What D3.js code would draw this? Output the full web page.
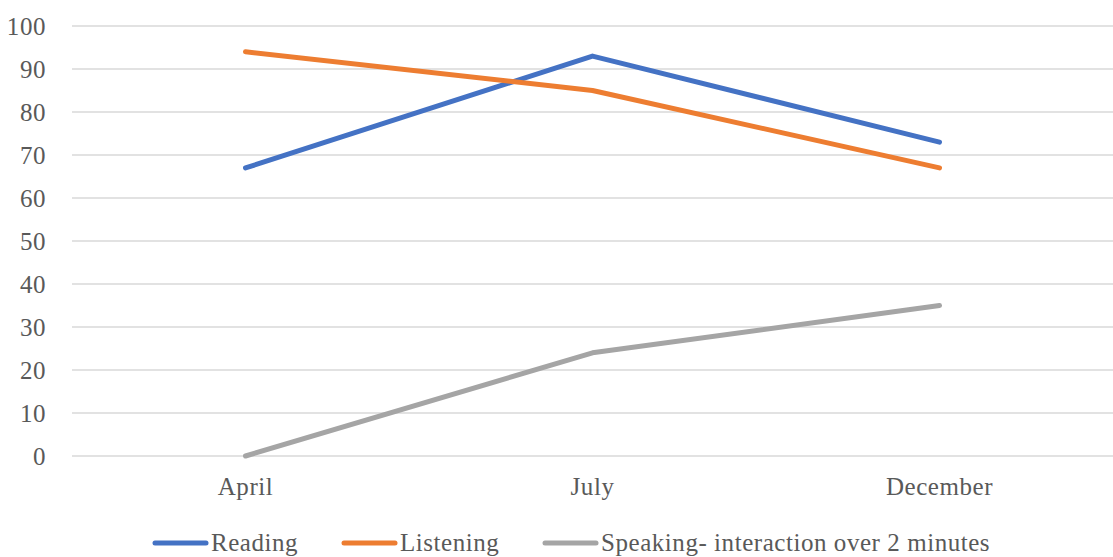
<!DOCTYPE html>
<html>
<head>
<meta charset="utf-8">
<script src="https://cdn.jsdelivr.net/npm/d3@7"></script>
<style>
  html, body { margin: 0; padding: 0; background: #fff; }
  svg text { font-family: "Liberation Serif", "DejaVu Serif", serif; fill: #595959; letter-spacing: 0.55px; }
</style>
</head>
<body>
<svg id="chart" width="1113" height="557"></svg>
<script>
const months = ["April", "July", "December"];
const reading = [67, 93, 73];
const listening = [94, 85, 67];
const speaking = [0, 24, 35];
const seriesNames = ["Reading", "Listening", "Speaking- interaction over 2 minutes"];
const seriesColors = ["#4472C4", "#ED7D31", "#A5A5A5"];
const yTicks = [0, 10, 20, 30, 40, 50, 60, 70, 80, 90, 100];

const series = [reading, listening, speaking].map((vals, i) => ({
  name: seriesNames[i], color: seriesColors[i], values: vals
}));

const svg = d3.select("#chart");
const plotLeft = 72, plotRight = 1113, plotTop = 26, plotBottom = 456;
const fontSize = "25px";

const x = d3.scaleBand().domain(months).range([plotLeft, plotRight]);
const y = d3.scaleLinear().domain([0, 100]).range([plotBottom, plotTop]);

// horizontal gridlines
svg.append("g").selectAll("line").data(yTicks).join("line")
  .attr("x1", plotLeft).attr("x2", plotRight)
  .attr("y1", d => y(d)).attr("y2", d => y(d))
  .attr("stroke", "#d9d9d9").attr("stroke-width", 1.3);

// y axis labels
const yAxis = d3.axisLeft(y).tickValues(yTicks).tickSize(0).tickPadding(0);
const yg = svg.append("g").attr("transform", `translate(${plotLeft - 26},0)`).call(yAxis);
yg.select(".domain").remove();
yg.selectAll("text").style("font-size", fontSize).attr("fill", "#595959")
  .style("font-family", '"Liberation Serif", "DejaVu Serif", serif');

// x axis labels
const xAxis = d3.axisBottom(x).tickSize(0).tickPadding(0);
const xg = svg.append("g").attr("transform", `translate(0,${plotBottom + 21})`).call(xAxis);
xg.select(".domain").remove();
xg.selectAll("text").style("font-size", fontSize).attr("fill", "#595959")
  .style("font-family", '"Liberation Serif", "DejaVu Serif", serif');

// series lines
const line = d3.line()
  .x((d, i) => x(months[i]) + x.bandwidth() / 2)
  .y(d => y(d));

svg.append("g").selectAll("path").data(series).join("path")
  .attr("d", d => line(d.values))
  .attr("fill", "none")
  .attr("stroke", d => d.color)
  .attr("stroke-width", 5)
  .attr("stroke-linecap", "round")
  .attr("stroke-linejoin", "round");

// legend
const legendX = [153, 342, 543];
const legendY = 543;
const lg = svg.append("g").selectAll("g").data(series).join("g")
  .attr("transform", (d, i) => `translate(${legendX[i]},${legendY})`);
lg.append("line")
  .attr("x1", 2).attr("x2", 53).attr("y1", 0).attr("y2", 0)
  .attr("stroke", d => d.color).attr("stroke-width", 5)
  .attr("stroke-linecap", "round");
lg.append("text")
  .attr("x", 58).attr("y", -1).attr("dy", "0.35em")
  .style("font-size", fontSize)
  .text(d => d.name);
</script>
</body>
</html>
